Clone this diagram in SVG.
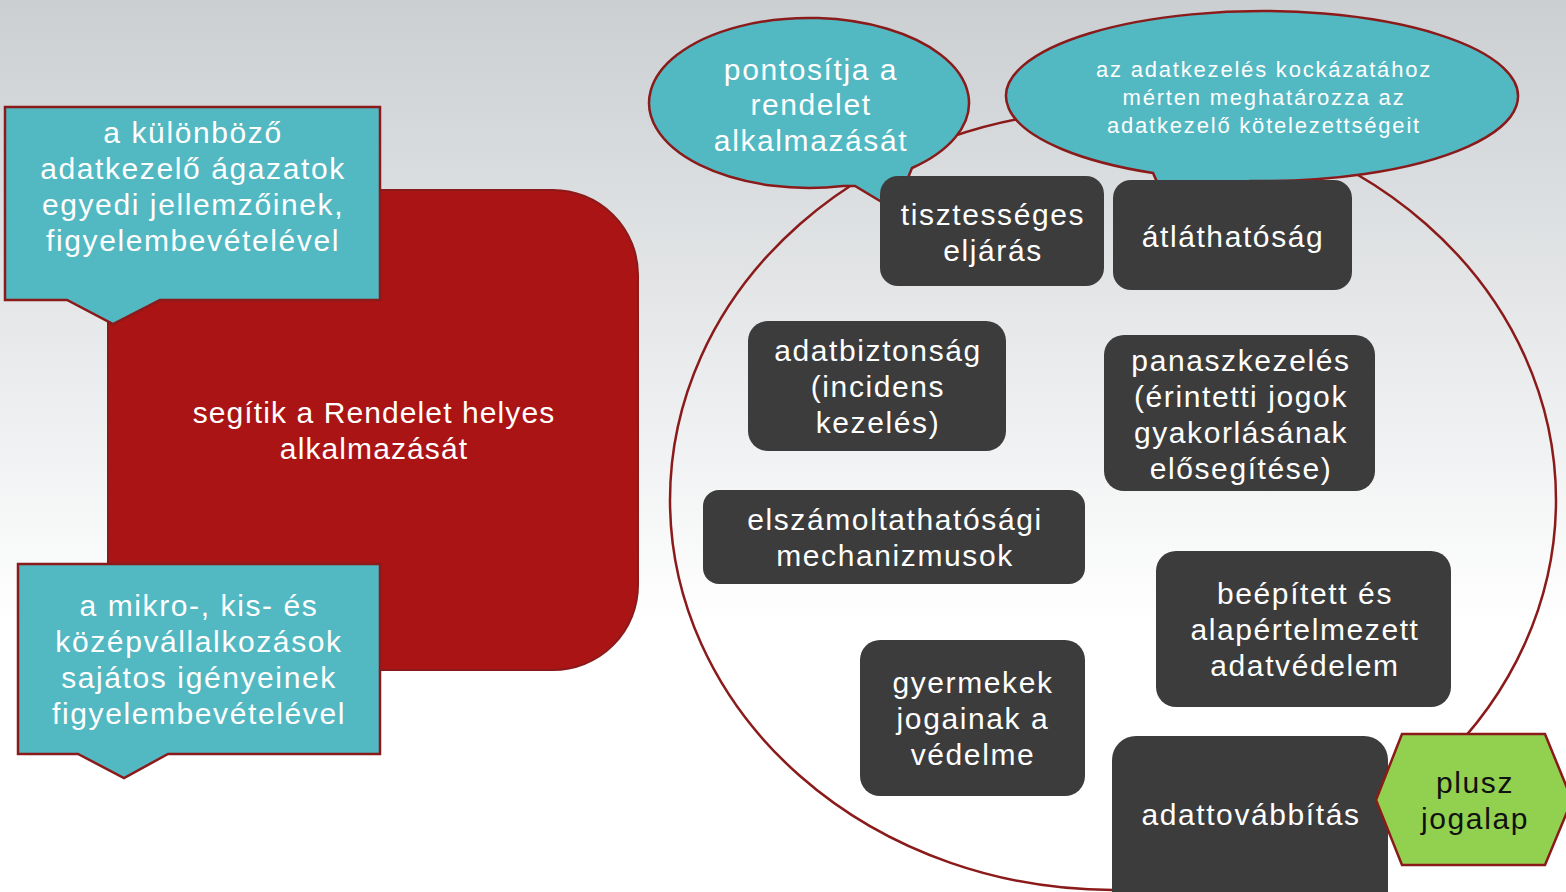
<svg xmlns="http://www.w3.org/2000/svg" width="1566" height="892" viewBox="0 0 1566 892">
<defs>
<linearGradient id="bg" x1="0" y1="0" x2="0" y2="1">
<stop offset="0" stop-color="#cbcfd2"/>
<stop offset="0.7" stop-color="#ffffff"/>
<stop offset="1" stop-color="#ffffff"/>
</linearGradient>
</defs>
<style>
.t{font-family:"Liberation Sans",Arial,sans-serif;text-anchor:middle;fill:#ffffff}
.b{font-size:30px;letter-spacing:1.6px}
.r{font-size:30px;letter-spacing:1.1px}
.s{font-size:22px;letter-spacing:1.8px}
.dk{fill:#3c3c3c}
.tl{fill:#52b8c2;stroke:#8b1a1a;stroke-width:2.5}
.ln{fill:none;stroke:#8b1a1a;stroke-width:2.5}
</style>
<rect x="0" y="0" width="1566" height="892" fill="url(#bg)"/>

<g id="red-block">
<rect x="108" y="190" width="530" height="480" rx="85" fill="#ab1414" stroke="#8b1a1a" stroke-width="2"/>
<text class="t r" x="374" y="423">segítik a Rendelet helyes</text>
<text class="t r" x="374" y="459">alkalmazását</text>
</g>

<g id="callout-top">
<path class="tl" d="M5,107 H380 V300 H160 L113,324 L67,300 H5 Z"/>
<text class="t b" x="193" y="143">a különböző</text>
<text class="t b" x="193" y="179">adatkezelő ágazatok</text>
<text class="t b" x="193" y="215">egyedi jellemzőinek,</text>
<text class="t b" x="193" y="251">figyelembevételével</text>
</g>

<g id="callout-bottom">
<path class="tl" d="M18,564 H380 V754 H168 L124,778 L78,754 H18 Z"/>
<text class="t b" x="199" y="616">a mikro-, kis- és</text>
<text class="t b" x="199" y="652">középvállalkozások</text>
<text class="t b" x="199" y="688">sajátos igényeinek</text>
<text class="t b" x="199" y="724">figyelembevételével</text>
</g>

<g id="connectors">
<ellipse class="ln" cx="1113" cy="500" rx="443" ry="390"/>
</g>

<g id="bubble-1">
<path class="tl" d="M843,186 A160,85 0 1 1 912,168 L895,210 L855,186 Q849,186 843,186 Z"/>
<text class="t b" x="811" y="80">pontosítja a</text>
<text class="t b" x="811" y="115">rendelet</text>
<text class="t b" x="811" y="151">alkalmazását</text>
</g>

<g id="bubble-2">
<path class="tl" d="M1153,173 A256,85 0 1 1 1250,181 L1165,200 Z"/>
<text class="t s" x="1264" y="77">az adatkezelés kockázatához</text>
<text class="t s" x="1264" y="105">mérten meghatározza az</text>
<text class="t s" x="1264" y="133">adatkezelő kötelezettségeit</text>
</g>

<g id="n-tisztesseges">
<rect class="dk" x="880" y="176" width="224" height="110" rx="18"/>
<text class="t b" x="993" y="225">tisztességes</text>
<text class="t b" x="993" y="261">eljárás</text>
</g>
<g id="n-atlathatosag">
<rect class="dk" x="1113" y="180" width="239" height="110" rx="18"/>
<text class="t b" x="1233" y="247">átláthatóság</text>
</g>
<g id="n-adatbiztonsag">
<rect class="dk" x="748" y="321" width="258" height="130" rx="20"/>
<text class="t b" x="878" y="361">adatbiztonság</text>
<text class="t b" x="878" y="397">(incidens</text>
<text class="t b" x="878" y="433">kezelés)</text>
</g>
<g id="n-panaszkezeles">
<rect class="dk" x="1104" y="335" width="271" height="156" rx="20"/>
<text class="t b" x="1241" y="371">panaszkezelés</text>
<text class="t b" x="1241" y="407">(érintetti jogok</text>
<text class="t b" x="1241" y="443">gyakorlásának</text>
<text class="t b" x="1241" y="479">elősegítése)</text>
</g>
<g id="n-elszamoltathatosagi">
<rect class="dk" x="703" y="490" width="382" height="94" rx="16"/>
<text class="t b" x="895" y="530">elszámoltathatósági</text>
<text class="t b" x="895" y="566">mechanizmusok</text>
</g>
<g id="n-beepitett">
<rect class="dk" x="1156" y="551" width="295" height="156" rx="20"/>
<text class="t b" x="1305" y="604">beépített és</text>
<text class="t b" x="1305" y="640">alapértelmezett</text>
<text class="t b" x="1305" y="676">adatvédelem</text>
</g>
<g id="n-gyermekek">
<rect class="dk" x="860" y="640" width="225" height="156" rx="20"/>
<text class="t b" x="973" y="693">gyermekek</text>
<text class="t b" x="973" y="729">jogainak a</text>
<text class="t b" x="973" y="765">védelme</text>
</g>
<g id="n-adattovabbitas">
<rect class="dk" x="1112" y="736" width="276" height="180" rx="24"/>
<text class="t b" x="1251" y="825">adattovábbítás</text>
</g>
<g id="n-plusz-jogalap">
<path d="M1376,800 L1402,734 H1545 L1572,800 L1545,865 H1402 Z" fill="#92d050" stroke="#8b1a1a" stroke-width="2.5"/>
<text class="t b" x="1475" y="793" style="fill:#111111">plusz</text>
<text class="t b" x="1475" y="829" style="fill:#111111">jogalap</text>
</g>
</svg>
